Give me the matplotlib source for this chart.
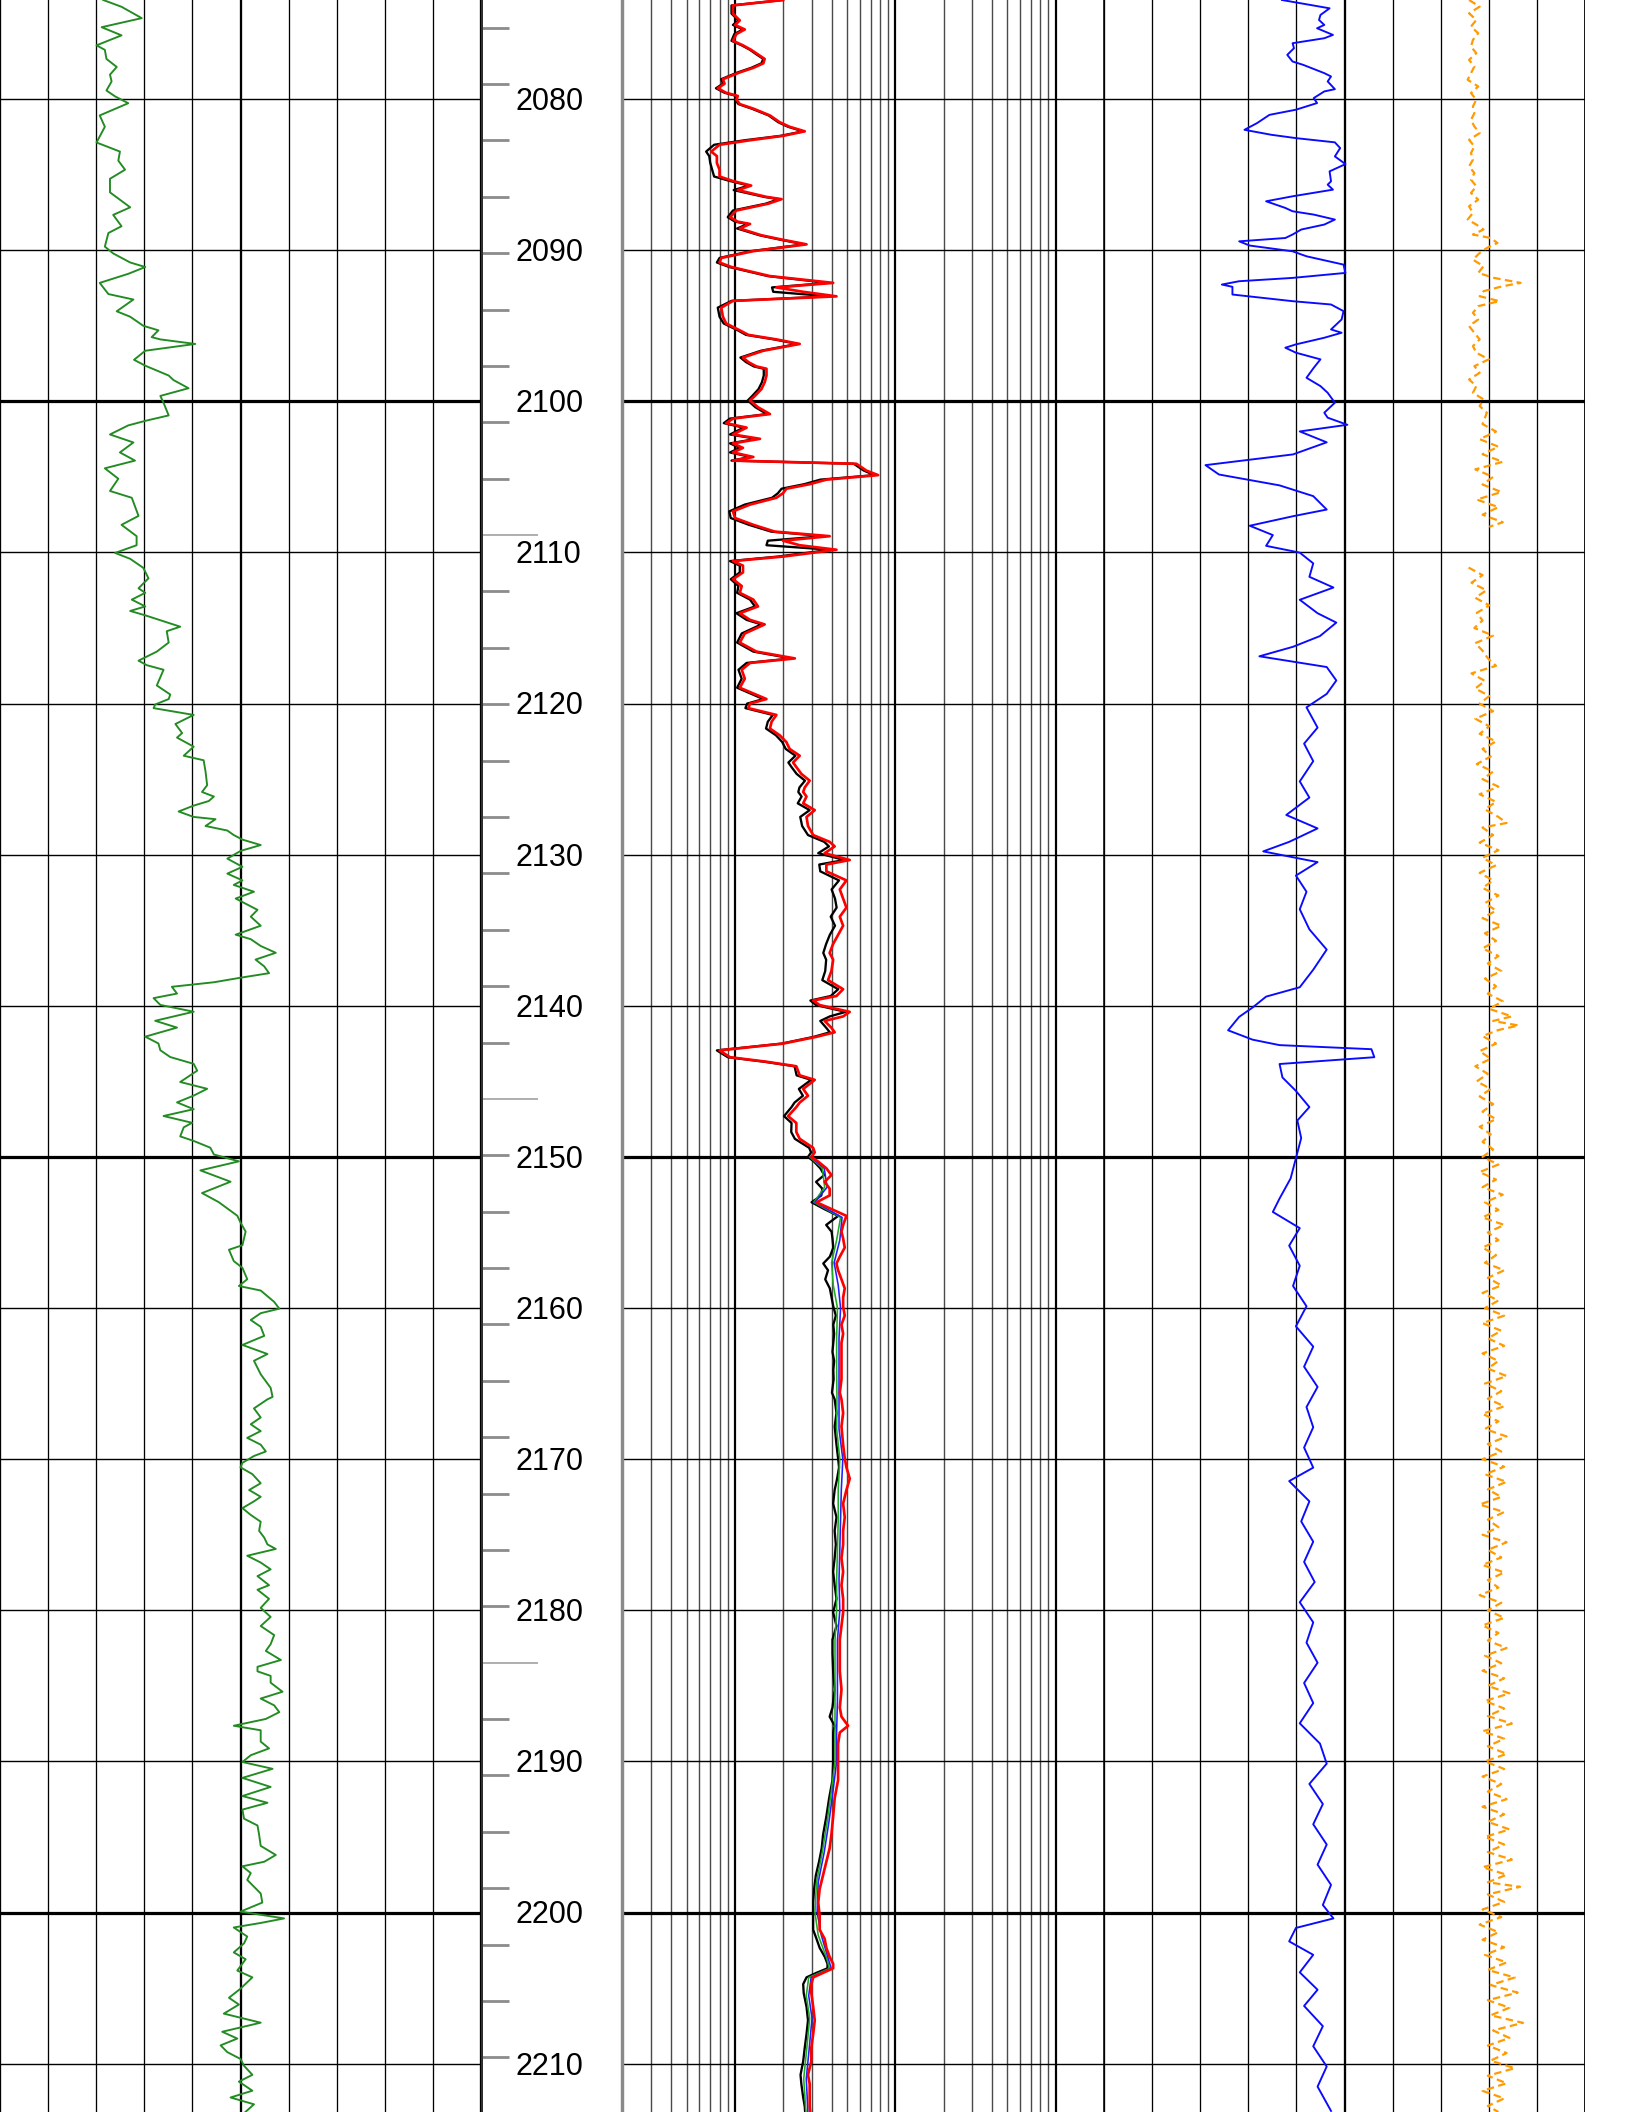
import numpy as np
import matplotlib
matplotlib.use("Agg")
import matplotlib.pyplot as plt
from matplotlib.transforms import blended_transform_factory

# ---------------- data ----------------
GR_DEPTH = [
    2073.44, 2073.89, 2074.64, 2075.24, 2075.78, 2076.44, 2076.74, 2077.34, 2077.87, 2078.38,
    2078.83, 2079.43, 2079.82, 2080.27, 2081.08, 2081.83, 2082.87, 2083.47, 2084.07, 2084.67,
    2085.27, 2086.17, 2087.16, 2087.66, 2088.41, 2088.86, 2089.76, 2090.21, 2090.81, 2091.11,
    2091.56, 2092.16, 2092.90, 2093.26, 2094.04, 2094.40, 2095.00, 2095.30, 2095.75, 2095.90,
    2096.20, 2096.65, 2097.25, 2097.64, 2098.29, 2098.59, 2099.13, 2099.64, 2100.09, 2100.93,
    2101.29, 2101.59, 2102.19, 2102.72, 2103.38, 2103.92, 2104.43, 2105.12, 2105.93, 2106.38,
    2107.58, 2108.17, 2108.92, 2109.52, 2110.03, 2110.42, 2111.02, 2111.71, 2112.37, 2112.67,
    2113.12, 2113.57, 2113.87, 2114.16, 2114.91, 2115.21, 2115.96, 2116.56, 2117.16, 2117.46,
    2117.76, 2118.80, 2119.40,
    2119.70, 2120.06, 2120.30, 2120.75, 2121.35, 2121.95, 2122.25, 2122.85, 2123.45, 2123.75,
    2124.50, 2125.40, 2125.85, 2126.15, 2126.45, 2126.75, 2127.14, 2127.50, 2127.65, 2128.10,
    2128.40, 2128.70, 2129.00, 2129.36, 2129.75, 2130.26, 2130.80, 2131.25, 2131.70, 2132.00,
    2132.45, 2132.90, 2133.65, 2134.10, 2134.70, 2135.29, 2135.59, 2136.04, 2136.49, 2136.94,
    2137.39, 2137.84, 2138.14, 2138.44, 2138.74, 2139.19, 2139.49, 2139.94, 2140.39, 2140.99,
    2141.44, 2142.04, 2142.49, 2142.94, 2143.39, 2143.84, 2144.29, 2145.04, 2145.49, 2145.94,
    2146.39, 2146.84, 2147.29, 2147.74, 2148.04, 2148.64, 2148.94, 2149.39, 2149.84, 2150.29,
    2150.89, 2151.64, 2152.39, 2152.99, 2153.89, 2154.34, 2154.94, 2155.84, 2156.14, 2156.89,
    2157.34, 2158.09, 2158.54, 2158.84, 2159.59, 2160.04, 2160.34, 2160.79, 2161.24, 2161.84,
    2162.44, 2163.04, 2163.49, 2164.38, 2165.28, 2165.88,
    2166.04, 2166.64, 2167.24, 2167.69, 2168.14, 2168.59, 2169.04, 2169.49, 2169.79, 2170.24,
    2170.54, 2170.99, 2171.59, 2172.04, 2172.49, 2172.79, 2173.24, 2173.69, 2174.14, 2174.74,
    2175.19, 2175.64, 2175.94, 2176.39, 2176.84, 2177.29, 2177.74, 2178.34, 2178.64, 2179.24,
    2179.84, 2180.44, 2181.04, 2181.64, 2182.24, 2182.69, 2183.29, 2183.74, 2184.04, 2184.34,
    2184.79, 2185.39, 2185.84, 2186.29, 2186.74, 2187.19, 2187.64, 2187.94, 2188.24, 2188.69,
    2189.14, 2189.59, 2190.04, 2190.49, 2191.09, 2191.69, 2192.29, 2192.74, 2193.19, 2193.79,
    2194.24, 2194.84, 2195.59, 2196.19, 2196.64, 2196.94, 2197.39, 2197.84, 2198.29, 2198.74,
    2199.34, 2199.94, 2200.39, 2200.69, 2200.99, 2201.59, 2202.04, 2202.64, 2203.09, 2203.84,
    2204.29, 2205.04, 2205.64, 2206.09, 2206.69, 2207.29, 2207.89, 2208.34, 2208.79, 2209.24,
    2209.69, 2210.14, 2210.74, 2211.19, 2211.79, 2212.24, 2212.69, 2213.30,
]
GR = [
    32.2, 37.9, 44.2, 31.7, 37.9, 30.1, 32.7, 33.2, 36.4, 34.3,
    34.8, 33.2, 35.9, 40.0, 31.1, 32.7, 30.1, 37.4, 36.9, 39.0,
    34.3, 34.3, 40.6, 35.3, 37.9, 33.8, 32.7, 35.3, 40.6, 45.3,
    40.0, 31.1, 33.8, 41.6, 36.4, 40.6, 44.7, 49.4, 47.3, 50.0,
    60.9, 45.3, 41.8, 45.3, 52.6, 54.1, 58.8, 50.0, 51.0, 52.6,
    45.3, 40.0, 34.3, 41.6, 37.4, 42.1, 32.7, 36.9, 34.3, 41.1,
    43.2, 37.9, 42.6, 42.6, 35.9, 40.6, 44.7, 46.3, 43.2, 45.3,
    41.1, 45.3, 40.6, 45.3, 56.2, 52.0, 52.6, 48.9, 43.2, 45.8,
    51.0, 48.9, 53.1,
    52.6, 48.4, 47.9, 60.4, 54.7, 56.8, 55.2, 60.4, 57.3, 63.5,
    64.1, 64.6, 63.0, 66.7, 65.1, 60.4, 55.7, 60.4, 67.2, 64.1,
    70.9, 72.9, 75.6, 81.3, 75.0, 70.9, 75.6, 70.9, 75.6, 72.9,
    79.2, 73.5, 80.3, 78.2, 81.3, 73.5, 78.2, 81.3, 86.0, 79.7,
    82.4, 83.9, 75.0, 66.7, 53.6, 55.2, 47.9, 50.0, 60.4, 48.4,
    55.2, 45.3, 49.4, 50.0, 53.1, 60.4, 61.5, 56.2, 64.6, 60.4,
    55.2, 60.4, 51.0, 59.9, 57.3, 56.2, 60.4, 65.6, 66.7, 74.5,
    62.5, 71.9, 63.0, 68.2, 74.0, 75.0, 76.6, 75.6, 71.4, 72.9,
    75.6, 77.1, 74.5, 81.3, 85.5, 87.1, 81.3, 78.2, 81.3, 82.4,
    75.6, 83.4, 79.2, 81.3, 84.4, 85.0,
    83.4, 79.2, 81.3, 78.2, 81.3, 77.1, 81.3, 82.9, 79.2, 75.6,
    75.0, 78.7, 81.3, 77.7, 81.3, 79.2, 75.6, 78.2, 81.3, 80.8,
    82.4, 83.4, 86.0, 77.1, 81.3, 84.4, 80.3, 83.9, 80.3, 83.9,
    81.3, 84.4, 81.3, 85.5, 84.4, 82.9, 87.6, 80.3, 80.3, 84.4,
    84.4, 88.1, 81.3, 85.5, 87.1, 82.9, 72.9, 81.3, 81.3, 81.3,
    83.9, 78.2, 75.6, 85.0, 75.6, 84.4, 75.6, 83.4, 75.6, 76.1,
    80.3, 80.8, 81.3, 86.0, 82.4, 75.6, 78.2, 77.1, 79.2, 81.3,
    81.8, 75.0, 88.6, 81.3, 72.9, 77.1, 76.1, 72.9, 76.6, 74.0,
    78.7, 75.0, 71.4, 74.5, 69.8, 81.3, 69.3, 74.0, 68.8, 70.9,
    75.0, 76.1, 78.7, 74.5, 78.7, 71.9, 79.2, 76.0,
]

RES_DEPTH = [
    2073.44, 2073.80, 2074.34, 2074.79, 2075.09, 2075.39, 2075.69, 2076.14, 2076.44, 2076.74,
    2077.04, 2077.34, 2077.63, 2077.93, 2078.23, 2078.68, 2078.98, 2079.28, 2079.58, 2079.79,
    2080.03, 2080.33, 2080.63, 2081.08, 2081.53, 2081.83, 2082.13, 2082.43, 2082.72, 2083.02,
    2083.47, 2083.77, 2084.22, 2084.67, 2085.12, 2085.42, 2085.72, 2086.02, 2086.47, 2086.62,
    2086.92, 2087.37, 2087.81, 2088.11, 2088.26, 2088.56, 2089.01, 2089.31, 2089.61, 2090.06,
    2090.51, 2090.81, 2091.11, 2091.71, 2092.16, 2092.46, 2092.75, 2093.05, 2093.35, 2093.80,
    2094.40, 2094.85, 2095.30, 2095.60, 2095.90, 2096.20, 2096.65, 2097.10, 2097.40, 2097.69,
    2097.84, 2098.29, 2098.74, 2099.19, 2099.64, 2099.94, 2100.39, 2100.84, 2101.14, 2101.44,
    2101.74, 2102.19, 2102.48, 2102.78, 2103.08, 2103.38, 2103.68, 2103.92, 2104.13, 2104.58,
    2104.88, 2105.18, 2105.48, 2105.78, 2106.08, 2106.38, 2106.83, 2107.28, 2107.72, 2108.17,
    2108.62, 2108.92, 2109.22, 2109.52, 2109.82, 2110.27, 2110.57, 2110.87, 2111.32, 2111.77,
    2112.22, 2112.67, 2113.12, 2113.57, 2114.02, 2114.46, 2114.76, 2115.36, 2115.96, 2116.56,
    2117.01, 2117.31, 2117.76, 2118.35, 2118.95, 2119.70,
    2120.00, 2120.30, 2120.75, 2121.20, 2121.65, 2122.10, 2122.55, 2123.00, 2123.45, 2123.90,
    2124.20, 2124.65, 2125.10, 2125.55, 2125.85, 2126.15, 2126.60, 2127.05, 2127.50, 2128.10,
    2128.70, 2129.15, 2129.45, 2129.90, 2130.35, 2130.65, 2131.10, 2131.70, 2132.30, 2132.90,
    2133.50, 2134.10, 2134.70, 2135.30, 2135.90, 2136.50, 2136.95, 2137.70, 2138.30, 2138.90,
    2139.35, 2139.65, 2139.95, 2140.40, 2140.70, 2141.00, 2141.45, 2141.75, 2142.05, 2142.50,
    2142.95, 2143.40, 2143.70, 2144.00, 2144.60, 2144.90, 2145.50, 2145.95, 2146.40, 2146.70,
    2147.30, 2147.75, 2148.35, 2148.80, 2149.40, 2149.70, 2150.00, 2150.30, 2150.75, 2151.20,
    2151.65, 2152.10, 2152.55, 2153.00, 2153.45, 2153.90, 2154.50, 2154.95, 2155.40, 2156.00,
    2156.60, 2157.05, 2157.50, 2158.10, 2158.70, 2159.30, 2159.90, 2160.50, 2161.10, 2161.70,
    2162.30, 2162.90, 2163.50, 2164.10, 2164.70, 2165.60,
    2166.04, 2166.94, 2167.84, 2169.04, 2169.94, 2170.54, 2171.29, 2172.04, 2172.94, 2173.84,
    2174.74, 2175.64, 2176.54, 2177.44, 2178.34, 2179.24, 2180.14, 2181.04, 2181.94, 2182.84,
    2184.04, 2185.24, 2186.44, 2187.04, 2187.64, 2188.09, 2188.84, 2190.04, 2191.24, 2192.44,
    2193.64, 2194.84, 2195.74, 2196.64, 2197.54, 2198.44, 2199.34, 2200.24, 2201.14, 2201.74,
    2202.34, 2202.94, 2203.39, 2203.69, 2203.99, 2204.29, 2204.74, 2205.34, 2206.24, 2207.14,
    2208.04, 2208.94, 2209.84, 2210.74, 2211.34, 2212.24, 2212.84, 2213.30,
]
RES_RED = [
    1.99, 0.97, 0.97, 1.07, 1.00, 1.15, 1.02, 0.97, 1.12, 1.26,
    1.39, 1.53, 1.50, 1.30, 1.07, 0.84, 0.86, 0.78, 0.88, 1.04,
    1.02, 1.07, 1.30, 1.65, 1.90, 2.19, 2.72, 1.99, 1.24, 0.80,
    0.71, 0.77, 0.77, 0.80, 0.80, 0.97, 1.26, 1.04, 1.57, 1.95,
    1.61, 1.02, 0.93, 1.04, 1.24, 1.07, 1.46, 1.99, 2.79, 1.30,
    0.82, 0.80, 0.95, 1.65, 4.09, 1.81, 2.66, 4.29, 0.97, 0.82,
    0.84, 0.88, 1.07, 1.21, 1.81, 2.53, 1.50, 1.12, 1.21, 1.36,
    1.57, 1.57, 1.53, 1.46, 1.33, 1.24, 1.39, 1.65, 0.97, 0.88,
    1.18, 0.97, 1.43, 0.97, 1.12, 0.97, 1.30, 0.97, 5.71, 6.59,
    7.80, 3.71, 2.92, 2.09, 1.99, 1.81, 1.24, 0.97, 1.00, 1.30,
    1.77, 3.89, 1.99, 2.53, 4.29, 1.99, 0.97, 1.12, 1.12, 0.97,
    1.10, 1.07, 1.30, 1.39, 1.07, 1.24, 1.53, 1.15, 1.07, 1.36,
    2.36, 1.24, 1.10, 1.15, 1.07, 1.57,
    1.24, 1.21, 1.81, 1.69, 1.65, 1.90, 2.09, 2.19, 2.53, 2.30,
    2.41, 2.59, 2.92, 2.72, 2.66, 2.79, 2.66, 3.14, 2.79, 2.85,
    3.07, 3.89, 4.18, 3.62, 5.19, 3.71, 3.71, 4.95, 4.50, 4.72,
    4.95, 4.50, 4.72, 4.39, 4.09, 3.89, 4.09, 3.99, 3.80, 4.72,
    4.29, 3.07, 3.37, 5.19, 4.72, 3.62, 3.99, 4.18, 3.22, 1.99,
    0.80, 0.93, 1.57, 2.41, 2.53, 3.14, 2.66, 2.85, 2.53, 2.41,
    2.14, 2.41, 2.41, 2.53, 3.07, 3.14, 2.99, 3.29, 3.71, 3.99,
    3.62, 3.89, 3.89, 3.22, 3.99, 4.95, 4.72, 4.61, 4.72, 4.83,
    4.50, 4.29, 4.39, 4.61, 4.83, 4.72, 4.72, 4.83, 4.61, 4.72,
    4.61, 4.61, 4.61, 4.61, 4.61, 4.50,
    4.61, 4.72, 4.61, 4.72, 4.83, 4.95, 5.19, 4.95, 4.72, 4.83,
    4.72, 4.72, 4.61, 4.72, 4.61, 4.72, 4.72, 4.61, 4.50, 4.50,
    4.50, 4.61, 4.50, 4.61, 5.07, 4.50, 4.39, 4.39, 4.39, 4.18,
    4.09, 3.99, 3.89, 3.71, 3.54, 3.37, 3.30, 3.37, 3.37, 3.62,
    3.71, 3.89, 4.09, 4.09, 3.54, 3.07, 2.99, 2.99, 3.07, 3.14,
    3.07, 2.99, 2.99, 2.85, 2.92, 2.92, 2.92, 2.95,
]
RES_BLACK = [
    1.99, 0.95, 0.95, 1.05, 0.97, 1.12, 0.99, 0.95, 1.10, 1.24,
    1.36, 1.50, 1.46, 1.26, 1.04, 0.82, 0.84, 0.76, 0.86, 1.02,
    1.00, 1.05, 1.27, 1.62, 1.86, 2.14, 2.65, 1.92, 1.15, 0.74,
    0.66, 0.69, 0.70, 0.72, 0.74, 0.93, 1.22, 0.98, 1.52, 1.88,
    1.55, 0.97, 0.90, 1.00, 1.20, 1.03, 1.42, 1.93, 2.70, 1.25,
    0.80, 0.77, 0.92, 1.60, 3.80, 1.70, 1.73, 3.90, 0.95, 0.78,
    0.80, 0.85, 1.04, 1.17, 1.75, 2.45, 1.45, 1.08, 1.17, 1.31,
    1.51, 1.51, 1.47, 1.40, 1.28, 1.20, 1.34, 1.58, 0.93, 0.85,
    1.13, 0.93, 1.36, 0.93, 1.07, 0.93, 1.25, 0.95, 5.50, 6.35,
    7.40, 3.40, 2.70, 1.95, 1.85, 1.70, 1.15, 0.92, 0.94, 1.22,
    1.68, 3.60, 1.60, 1.57, 3.95, 1.85, 0.93, 1.07, 1.07, 0.94,
    1.05, 1.03, 1.24, 1.33, 1.02, 1.18, 1.46, 1.10, 1.03, 1.30,
    2.25, 1.18, 1.05, 1.10, 1.03, 1.50,
    1.19, 1.16, 1.72, 1.60, 1.56, 1.80, 1.97, 2.07, 2.38, 2.15,
    2.25, 2.42, 2.73, 2.52, 2.48, 2.60, 2.46, 2.92, 2.55, 2.62,
    2.85, 3.60, 3.85, 3.30, 4.80, 3.35, 3.40, 4.45, 4.00, 4.20,
    4.30, 3.95, 4.20, 3.90, 3.70, 3.55, 3.70, 3.65, 3.50, 4.40,
    3.95, 2.95, 3.20, 4.90, 3.90, 3.40, 3.70, 3.90, 3.10, 1.95,
    0.77, 0.90, 1.52, 2.35, 2.42, 2.98, 2.50, 2.65, 2.35, 2.25,
    2.02, 2.25, 2.24, 2.36, 2.90, 2.98, 2.85, 3.10, 3.40, 3.60,
    3.20, 3.50, 3.45, 3.00, 3.60, 4.40, 3.70, 4.00, 4.05, 4.10,
    3.90, 3.55, 3.80, 3.65, 3.90, 4.00, 4.10, 4.25, 4.10, 4.15,
    4.10, 4.05, 4.15, 4.10, 4.12, 4.02,
    4.18, 4.29, 4.18, 4.29, 4.39, 4.45, 4.33, 4.18, 4.09, 4.29,
    4.18, 4.25, 4.18, 4.09, 4.18, 4.29, 4.09, 4.29, 4.05, 4.05,
    4.09, 4.18, 4.05, 3.89, 4.18, 4.09, 4.09, 4.09, 4.05, 3.86,
    3.71, 3.54, 3.47, 3.34, 3.19, 3.11, 3.07, 3.07, 3.07, 3.22,
    3.37, 3.63, 3.77, 3.77, 3.22, 2.79, 2.66, 2.68, 2.79, 2.85,
    2.79, 2.72, 2.66, 2.56, 2.59, 2.66, 2.72, 2.74,
]
RESM_DEPTH = [
    2150.0, 2150.75, 2152.0, 2153.0, 2154.0, 2155.5, 2157.0, 2158.5, 2160.0, 2162.0,
    2164.0, 2166.0, 2168.0, 2170.0, 2172.0, 2174.0, 2176.0, 2178.0, 2180.0, 2182.0,
    2184.0, 2186.0, 2188.0, 2190.0, 2192.0, 2194.0, 2196.0, 2198.0, 2200.0, 2201.5,
    2203.0, 2203.7, 2204.3, 2205.5, 2207.0, 2209.0, 2211.0, 2213.3,
]
RES_GREEN = [
    2.92, 3.50, 3.62, 3.10, 4.55, 4.30, 4.00, 4.10, 4.35, 4.30,
    4.30, 4.32, 4.30, 4.50, 4.40, 4.40, 4.35, 4.30, 4.30, 4.20,
    4.20, 4.20, 4.20, 4.20, 3.98, 3.75, 3.50, 3.22, 3.15, 3.30,
    3.72, 3.88, 2.88, 2.78, 2.92, 2.80, 2.68, 2.77,
]
RES_BLUE = [
    2.95, 3.60, 3.75, 3.15, 4.65, 4.50, 4.15, 4.40, 4.55, 4.45,
    4.45, 4.45, 4.45, 4.70, 4.60, 4.55, 4.50, 4.45, 4.50, 4.35,
    4.35, 4.35, 4.30, 4.30, 4.08, 3.85, 3.60, 3.30, 3.25, 3.45,
    3.80, 3.98, 2.98, 2.88, 3.02, 2.90, 2.78, 2.85,
]

RHOB_DEPTH = [
    2073.44, 2073.99, 2074.43, 2074.76, 2075.09, 2075.31, 2075.75, 2075.97, 2076.30, 2076.63,
    2077.07, 2077.51, 2077.73, 2078.28, 2078.50, 2078.83, 2079.34, 2079.49, 2079.93, 2080.26,
    2080.70, 2081.04, 2081.59, 2082.03, 2082.36, 2082.58, 2082.86, 2083.24, 2083.79, 2084.30,
    2084.78, 2085.44, 2085.66, 2085.99, 2086.43, 2086.76, 2087.20, 2087.42, 2087.64, 2087.97,
    2088.30, 2088.63, 2088.96, 2089.19, 2089.41, 2089.69, 2090.07, 2090.40, 2090.95, 2091.50,
    2091.83, 2092.05, 2092.27, 2092.42, 2092.93, 2093.37, 2093.59, 2094.03, 2094.58, 2095.24,
    2095.46, 2095.79, 2096.23, 2096.45, 2096.78, 2097.22, 2097.78, 2098.44, 2098.99, 2099.43,
    2100.09, 2100.75, 2101.08,
    2101.55, 2101.99, 2102.71, 2103.51, 2104.22, 2104.84, 2105.56, 2106.27, 2107.16, 2107.60,
    2108.23, 2108.85, 2109.56, 2110.01, 2110.72, 2111.61, 2112.32, 2113.13, 2114.02, 2114.64,
    2115.53, 2116.24, 2116.87, 2117.58, 2118.47, 2119.36, 2120.25, 2121.59, 2122.65, 2123.81,
    2125.15, 2126.22, 2127.37, 2128.26, 2129.15, 2129.78, 2130.49, 2131.38, 2132.45, 2133.61,
    2134.94, 2136.28, 2137.61, 2138.77, 2139.39, 2140.11, 2140.73, 2141.62, 2142.24, 2142.60,
    2142.87, 2143.40, 2143.85, 2144.74, 2145.63, 2146.70, 2147.59, 2148.75, 2150.08, 2151.42,
    2152.75, 2153.64, 2154.71, 2155.87, 2157.20, 2158.54, 2159.88, 2161.21, 2162.55, 2163.88,
    2165.22, 2166.55, 2167.89, 2169.23, 2170.56, 2171.45, 2172.79, 2174.12, 2175.46, 2176.80,
    2178.13, 2179.47, 2180.80, 2182.14, 2183.47, 2184.81, 2186.14, 2187.48, 2188.82, 2190.15,
    2191.49, 2192.82, 2194.16, 2195.50, 2196.83, 2198.17, 2199.50, 2200.39, 2201.02, 2201.91,
    2202.80, 2203.96, 2205.11, 2206.18, 2207.52, 2208.85, 2210.19, 2211.52, 2213.13,
]
RHOB = [
    2.320, 2.419, 2.400, 2.397, 2.408, 2.393, 2.426, 2.408, 2.342, 2.345,
    2.331, 2.342, 2.364, 2.408, 2.422, 2.415, 2.430, 2.408, 2.386, 2.393,
    2.349, 2.294, 2.268, 2.242, 2.298, 2.349, 2.430, 2.441, 2.430, 2.452,
    2.419, 2.422, 2.415, 2.426, 2.342, 2.287, 2.327, 2.342, 2.386, 2.430,
    2.408, 2.360, 2.342, 2.327, 2.231, 2.253, 2.342, 2.371, 2.448, 2.452,
    2.342, 2.231, 2.195, 2.217, 2.217, 2.342, 2.422, 2.448, 2.444, 2.422,
    2.444, 2.408, 2.349, 2.327, 2.349, 2.400, 2.386, 2.371, 2.400, 2.415,
    2.430, 2.408, 2.415,
    2.456, 2.357, 2.413, 2.343, 2.161, 2.189, 2.315, 2.385, 2.413, 2.343,
    2.253, 2.301, 2.287, 2.357, 2.385, 2.377, 2.427, 2.357, 2.394, 2.433,
    2.399, 2.343, 2.273, 2.413, 2.433, 2.413, 2.371, 2.394, 2.366, 2.385,
    2.357, 2.377, 2.329, 2.394, 2.335, 2.281, 2.394, 2.349, 2.371, 2.357,
    2.377, 2.413, 2.385, 2.357, 2.287, 2.259, 2.231, 2.208, 2.259, 2.315,
    2.506, 2.512, 2.315, 2.321, 2.349, 2.377, 2.352, 2.360, 2.349, 2.338,
    2.315, 2.301, 2.357, 2.335, 2.357, 2.343, 2.371, 2.349, 2.385, 2.366,
    2.394, 2.371, 2.385, 2.366, 2.385, 2.335, 2.377, 2.360, 2.385, 2.366,
    2.388, 2.357, 2.385, 2.371, 2.394, 2.366, 2.385, 2.357, 2.399, 2.413,
    2.377, 2.405, 2.385, 2.413, 2.394, 2.422, 2.405, 2.427, 2.349, 2.335,
    2.385, 2.357, 2.394, 2.366, 2.405, 2.385, 2.413, 2.394, 2.422,
]

NAN = float("nan")
DRHO_DEPTH = [
    2073.44, 2073.88, 2074.32, 2074.76, 2075.20, 2075.64, 2076.08, 2076.52, 2076.96, 2077.40,
    2077.84, 2078.28, 2078.72, 2079.16, 2079.60, 2080.04, 2080.48, 2080.93, 2081.37, 2081.81,
    2082.25, 2082.69, 2083.13, 2083.57, 2084.01, 2084.45, 2084.89, 2085.33, 2085.77, 2086.21,
    2086.65, 2087.09, 2087.53, 2087.97, 2088.30, 2088.63, 2088.96, 2089.19, 2089.52, 2089.85,
    2090.18, 2090.62, 2091.06, 2091.50, 2091.83, 2092.16, 2092.38, 2092.71, 2093.04, 2093.37,
    2093.70, 2094.14, 2094.58, 2095.02, 2095.46, 2095.90, 2096.34, 2096.78, 2097.22, 2097.67,
    2098.11, 2098.55, 2098.99, 2099.43, 2099.87, 2100.31, 2100.75,
    2101.5, 2102.0, 2102.5, 2103.0, 2103.5, 2104.0, 2104.5, 2105.0, 2105.5, 2106.0,
    2106.5, 2107.0, 2107.5, 2108.0, 2108.3, 2109.5, 2111.0, 2111.5, 2112.0, 2112.5,
    2113.0, 2113.5, 2114.0, 2114.5, 2115.0, 2115.5, 2116.0, 2116.5, 2117.0, 2117.5,
    2118.0, 2118.5, 2119.0, 2119.5, 2120.0, 2120.5, 2121.0, 2121.5, 2122.0, 2122.5,
    2123.0, 2123.5, 2124.0, 2124.5, 2125.0, 2125.5, 2126.0, 2126.5, 2127.0, 2127.5,
    2127.9, 2128.2, 2128.7, 2129.2, 2129.7, 2130.2, 2130.7, 2131.2, 2131.7, 2132.2,
    2132.7, 2133.2, 2133.7, 2134.2, 2134.7, 2135.2, 2135.7, 2136.2, 2136.7, 2137.2,
    2137.7, 2138.2, 2138.7, 2139.2, 2139.7, 2140.2, 2140.7, 2141.0, 2141.3, 2141.6,
    2142.0, 2142.5, 2143.0, 2143.5, 2144.0, 2144.5, 2145.0, 2145.5, 2146.0, 2146.5,
    2147.0, 2147.5, 2148.0, 2148.5, 2149.0, 2149.5, 2150.0, 2150.5, 2151.0, 2151.5,
    2152.0, 2152.5, 2153.0, 2153.5, 2154.0, 2154.5, 2155.0, 2155.5, 2156.0, 2156.5,
    2157.0, 2157.5, 2158.0, 2158.5, 2159.0, 2159.5, 2160.0, 2160.5, 2161.0, 2161.5,
    2162.0, 2162.5, 2163.0, 2163.5, 2164.0, 2164.5, 2165.0, 2165.5, 2166.0, 2166.5,
    2167.0, 2167.5, 2168.0, 2168.5, 2169.0, 2169.5, 2170.0, 2170.5, 2171.0, 2171.5,
    2172.0, 2172.5, 2173.0, 2173.5, 2174.0, 2174.5, 2175.0, 2175.5, 2176.0, 2176.5,
    2177.0, 2177.5, 2178.0, 2178.5, 2179.0, 2179.5, 2180.0, 2180.5, 2181.0, 2181.5,
    2182.0, 2182.5, 2183.0, 2183.5, 2184.0, 2184.5, 2185.0, 2185.5, 2186.0, 2186.5,
    2187.0, 2187.5, 2188.0, 2188.5, 2189.0, 2189.5, 2190.0, 2190.5, 2191.0, 2191.5,
    2192.0, 2192.5, 2193.0, 2193.5, 2194.0, 2194.5, 2195.0, 2195.5, 2196.0, 2196.5,
    2197.0, 2197.5, 2198.0, 2198.3, 2198.8, 2199.3, 2199.8, 2200.3, 2200.8, 2201.3,
    2201.8, 2202.3, 2202.8, 2203.3, 2203.8, 2204.3, 2204.8, 2205.3, 2205.8, 2206.3,
    2206.8, 2207.3, 2207.8, 2208.3, 2208.8, 2209.3, 2209.8, 2210.3, 2210.8, 2211.3,
    2211.8, 2212.3, 2212.8, 2213.2,
]
DRHO = [
    0.009, 0.031, 0.009, 0.024, 0.013, 0.028, 0.017, 0.013, 0.024, 0.009,
    0.020, 0.013, 0.006, 0.028, 0.013, 0.024, 0.017, 0.020, 0.013, 0.020,
    0.031, 0.009, 0.020, 0.013, 0.017, 0.009, 0.020, 0.013, 0.024, 0.013,
    0.028, 0.009, 0.017, 0.006, 0.024, 0.039, 0.017, 0.054, 0.068, 0.046,
    0.031, 0.017, 0.039, 0.028, 0.061, 0.116, 0.079, 0.039, 0.031, 0.072,
    0.028, 0.017, 0.028, 0.009, 0.020, 0.031, 0.017, 0.024, 0.050, 0.020,
    0.031, 0.009, 0.024, 0.017, 0.039, 0.031, 0.046,
    0.037, 0.065, 0.031, 0.070, 0.037, 0.079, 0.022, 0.059, 0.037, 0.076,
    0.025, 0.070, 0.037, 0.079, 0.051, NAN, 0.008, 0.037, 0.014, 0.045,
    0.022, 0.051, 0.025, 0.037, 0.020, 0.059, 0.022, 0.037, 0.048, 0.065,
    0.014, 0.042, 0.022, 0.051, 0.031, 0.059, 0.022, 0.051, 0.031, 0.065,
    0.037, 0.054, 0.025, 0.059, 0.037, 0.070, 0.031, 0.065, 0.042, 0.070,
    0.087, 0.037, 0.059, 0.031, 0.070, 0.037, 0.065, 0.031, 0.059, 0.037,
    0.070, 0.042, 0.065, 0.037, 0.076, 0.042, 0.065, 0.037, 0.070, 0.048,
    0.076, 0.042, 0.065, 0.048, 0.079, 0.051, 0.098, 0.059, 0.112, 0.070,
    0.037, 0.065, 0.031, 0.054, 0.022, 0.048, 0.025, 0.054, 0.031, 0.059,
    0.037, 0.065, 0.031, 0.054, 0.037, 0.059, 0.037, 0.070, 0.031, 0.065,
    0.037, 0.079, 0.042, 0.070, 0.037, 0.082, 0.048, 0.070, 0.037, 0.065,
    0.042, 0.082, 0.048, 0.076, 0.037, 0.070, 0.042, 0.082, 0.037, 0.076,
    0.048, 0.082, 0.037, 0.070, 0.048, 0.087, 0.042, 0.076, 0.048, 0.082,
    0.037, 0.070, 0.042, 0.087, 0.048, 0.076, 0.037, 0.082, 0.042, 0.087,
    0.048, 0.076, 0.031, 0.082, 0.048, 0.070, 0.037, 0.087, 0.048, 0.076,
    0.037, 0.082, 0.048, 0.070, 0.031, 0.076, 0.048, 0.082, 0.037, 0.070,
    0.048, 0.087, 0.042, 0.076, 0.037, 0.082, 0.048, 0.093, 0.042, 0.082,
    0.048, 0.098, 0.037, 0.082, 0.048, 0.087, 0.042, 0.082, 0.037, 0.076,
    0.048, 0.087, 0.037, 0.082, 0.048, 0.093, 0.042, 0.082, 0.048, 0.098,
    0.037, 0.087, 0.048, 0.115, 0.048, 0.082, 0.037, 0.076, 0.031, 0.070,
    0.037, 0.082, 0.042, 0.087, 0.048, 0.104, 0.054, 0.110, 0.048, 0.093,
    0.054, 0.121, 0.059, 0.093, 0.048, 0.087, 0.054, 0.104, 0.048, 0.087,
    0.037, 0.082, 0.048, 0.070,
]

DEPTH_LABELS = [2080, 2090, 2100, 2110, 2120, 2130, 2140, 2150, 2160, 2170,
                2180, 2190, 2200, 2210]

# ---------------- layout ----------------
W, H = 1632, 2112
TOP, BOT = 2073.44, 2213.2
PT = 0.72  # points per pixel at dpi=100

fig = plt.figure(figsize=(W / 100, H / 100), dpi=100)
fig.patch.set_facecolor("white")


def add_track(x0, x1):
    ax = fig.add_axes([x0 / W, 0, (x1 - x0) / W, 1])
    ax.set_ylim(BOT, TOP)
    ax.set_xticks([])
    ax.set_yticks([])
    for s in ax.spines.values():
        s.set_visible(False)
    ax.patch.set_alpha(0)
    return ax


def hgrid(ax):
    for d in range(2080, 2220, 10):
        heavy = d % 50 == 0
        ax.axhline(d, color="black", lw=(3.2 if heavy else 1.4) * PT, zorder=1)


ax1 = add_track(0, 481)
axd = add_track(481, 623)
ax2 = add_track(623, 1104)
ax3 = add_track(1104, 1585)

# ---- track 1: GR (linear) ----
ax1.set_xlim(0, 150)
for i in range(11):
    x = 15 * i
    lw = 2.3 if i in (0, 5, 10) else 1.3
    ax1.axvline(x, color="black", lw=lw * PT, zorder=1)
hgrid(ax1)
ax1.plot(GR, GR_DEPTH, color="#228B22", lw=1.9 * PT, zorder=3)

# ---- depth track ----
axd.set_xlim(0, 1)
axd.axvline(0.004, color="#303030", lw=2.0 * PT, zorder=2)
axd.axvline(0.995, color="#8a8a8a", lw=2.4 * PT, zorder=2)
tick_base, tick_step = 2108.85, 3.731
for k in range(-12, 40):
    t = tick_base + k * tick_step
    if t < TOP - 1 or t > BOT + 1:
        continue
    if k % 10 == 0:
        axd.hlines(t, 0, 0.40, color="#a8a8a8", lw=1.8 * PT, zorder=1)
    else:
        axd.hlines(t, 0, 0.197, color="#8c8c8c", lw=2.8 * PT, zorder=1)
trans = blended_transform_factory(axd.transAxes, axd.transData)
for d in DEPTH_LABELS:
    axd.text(0.245, d + 0.72, str(d), transform=trans, ha="left", va="baseline",
             fontsize=22, family=["Liberation Sans", "DejaVu Sans"], color="black",
             zorder=3)

# ---- track 2: resistivity (log) ----
ax2.set_xscale("log")
ax2.set_xlim(0.2, 200)
ax2.set_xticks([])
ax2.minorticks_off()
for dec in (0.1, 1, 10, 100):
    for m in range(2, 10):
        v = dec * m
        if 0.2 < v < 200:
            ax2.axvline(v, color="#4a4a4a", lw=1.4 * PT, zorder=1)
for v in (1, 10, 100):
    ax2.axvline(v, color="black", lw=2.2 * PT, zorder=1)
ax2.axvline(0.2, color="#8a8a8a", lw=2.4 * PT, zorder=2)
ax2.axvline(200, color="black", lw=2.6 * PT, zorder=2)
hgrid(ax2)
ax2.plot(RES_BLACK, RES_DEPTH, color="black", lw=2.3 * PT, zorder=3)
ax2.plot(RES_GREEN, RESM_DEPTH, color="#1faa1f", lw=1.6 * PT, zorder=4)
ax2.plot(RES_BLUE, RESM_DEPTH, color="#2020ff", lw=1.6 * PT, zorder=5)
ax2.plot(RES_RED, RES_DEPTH, color="#ff0000", lw=2.7 * PT, zorder=6)

# ---- track 3: density / correction (linear) ----
ax3.set_xlim(0, 10)
for i in range(11):
    lw = 2.3 if i in (0, 5) else 1.3
    if i == 10:
        lw = 2.8
    ax3.axvline(i, color="black", lw=lw * PT, zorder=1)
hgrid(ax3)
rhob_x = [(v - 1.95) / 0.1 for v in RHOB]
drho_x = [(v + 0.75) / 0.1 for v in DRHO]
ax3.plot(rhob_x, RHOB_DEPTH, color="#0a0aff", lw=1.9 * PT, zorder=3)
ax3.plot(drho_x, DRHO_DEPTH, color="#ff9a00", lw=2.2 * PT, ls=(0, (3.4, 2.0)),
         zorder=3)

fig.savefig("out.png", dpi=100, facecolor="white")
